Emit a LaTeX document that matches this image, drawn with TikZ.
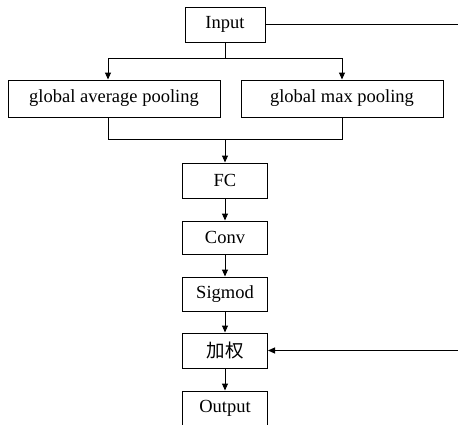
\documentclass[tikz,border=0pt]{standalone}
\usepackage{fontspec}
\setmainfont{Liberation Serif}
\newfontfamily\cjk{Noto Sans CJK SC}
\usetikzlibrary{arrows.meta}
\begin{document}
\begin{tikzpicture}[x=1pt,y=-1pt,
  blk/.style={draw,line width=1pt,inner sep=0pt,font=\fontsize{18.5}{21}\selectfont},
  flow/.style={line width=1pt,-{Triangle[length=7pt,width=6pt]}},
  wire/.style={line width=1pt}]
\useasboundingbox (0,0) rectangle (458,424);
\clip (0,0) rectangle (458,424);
% main blocks
\node[blk,minimum width=80pt,minimum height=35pt] (in) at (225,24.5) {Input};
\node[blk,minimum width=212pt,minimum height=37pt] (gap) at (114,98.5) {global average pooling};
\node[blk,minimum width=202pt,minimum height=37pt] (gmp) at (342,98.5) {global max pooling};
\node[blk,minimum width=85pt,minimum height=35pt] (fc) at (225,180.5) {FC};
\node[blk,minimum width=85pt,minimum height=33pt] (conv) at (225,237.5) {Conv};
\node[blk,minimum width=85pt,minimum height=34pt] (sig) at (225,294) {Sigmod};
\node[blk,minimum width=85pt,minimum height=35pt] (wt) at (225,350.5) {\cjk 加权};
\node[blk,minimum width=85pt,minimum height=35pt] (out) at (225,408.5) {Output};
% junction points
\coordinate (split) at (225,58);
\coordinate (sl) at (108,58);
\coordinate (sr) at (342,58);
\coordinate (ml) at (108,139);
\coordinate (mr) at (342,139);
\coordinate (merge) at (225,139);
\coordinate (skipA) at (458,24.5);
\coordinate (skipB) at (458,350.5);
% split into the two pooling branches
\draw[wire] (in.south) -- (split);
\draw[wire] (sl) -- (sr);
\draw[flow] (sl) -- (sl |- gap.north);
\draw[flow] (sr) -- (gmp.north);
% merge of the branches
\draw[wire] (gap.south -| ml) -- (ml) -- (mr) -- (gmp.south);
\draw[flow] (merge) -- (fc.north);
% sequential chain
\draw[flow] (fc) -- (conv);
\draw[flow] (conv) -- (sig);
\draw[flow] (sig) -- (wt);
\draw[flow] (wt) -- (out);
% skip path of the input to the weighting
\draw[wire] (in.east) -- (skipA);
\draw[flow] (skipB) -- (wt.east);
\end{tikzpicture}
\end{document}
